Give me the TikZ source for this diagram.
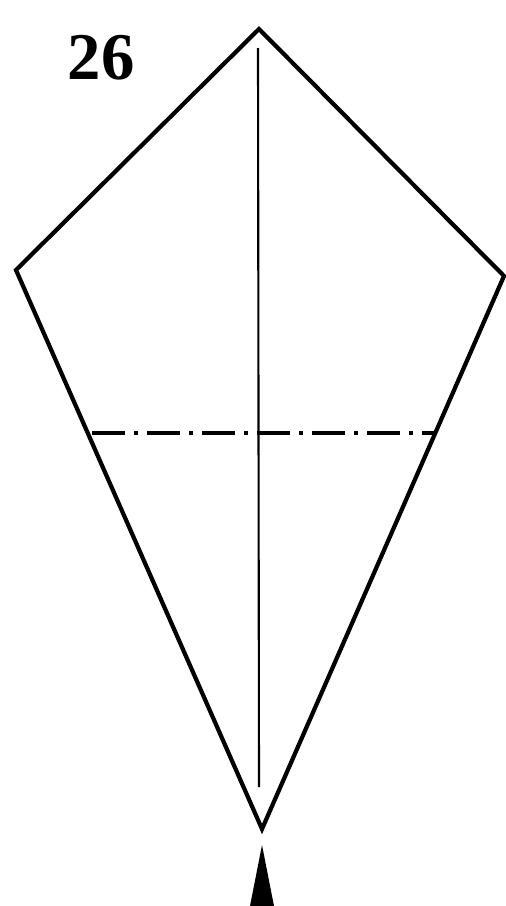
\documentclass[tikz,border=0pt]{standalone}
\usepackage{fontspec}
\setmainfont{Liberation Serif}
\usetikzlibrary{calc}

\tikzset{
  edge/.style={line width=2.4pt, line join=miter},
  crease/.style={line width=1.2pt},
  valley/.style={line width=2pt, dash pattern=on 19pt off 5pt on 2.3pt off 5pt},
}

\begin{document}
\begin{tikzpicture}[x=0.02cm, y=-0.02cm]
			\useasboundingbox (0,0) rectangle (506,906);
			% corners of the kite
			\coordinate (top) at (259,29);
			\coordinate (left) at (16,270);
			\coordinate (right) at (504,276);
			\coordinate (bottom) at (262,829);
			\draw[edge] (top) -- (right) -- (bottom) -- (left) -- cycle;
			% centre crease
			\coordinate (ctop) at (258,48);
			\coordinate (cbot) at (259,787);
			\draw[crease] (ctop) -- (cbot);
			% fold line
			\coordinate (fl) at (92,433);
			\coordinate (fr) at (434,433);
			\draw[valley] (fl) -- (fr);
			% push arrow
			\coordinate (tip) at (262,845);
			\fill (tip) -- (274,906) -- (250,906) -- cycle;
			\node[font=\fontsize{38}{40}\selectfont\bfseries] (num) at (101,58) {26};
		\end{tikzpicture}
\end{document}
